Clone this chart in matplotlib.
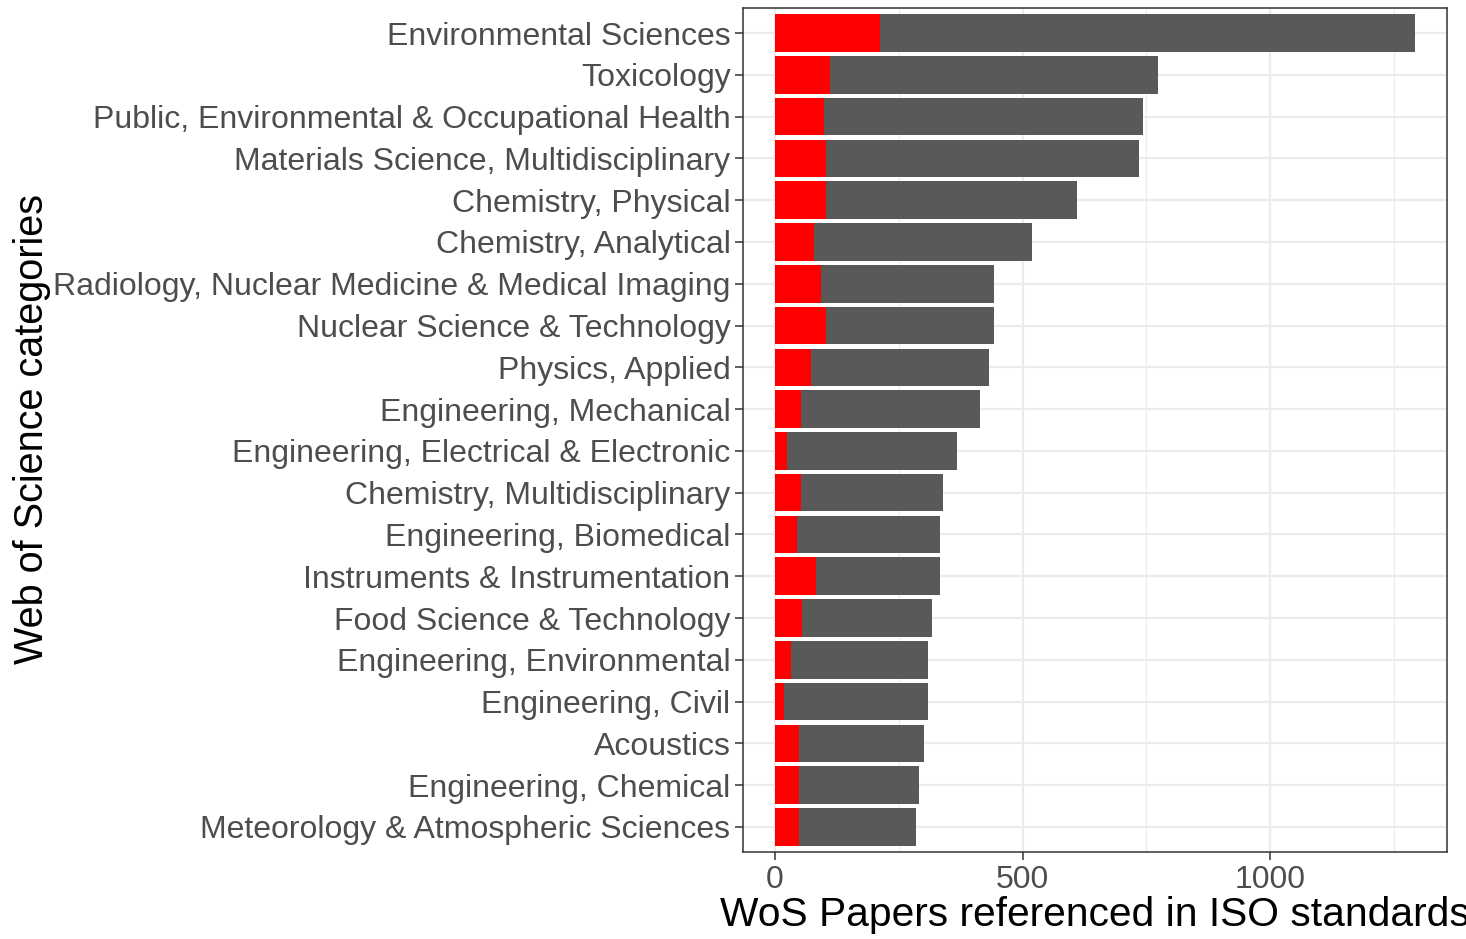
import numpy as np
import matplotlib
matplotlib.use("Agg")
import matplotlib.pyplot as plt

plt.rcParams['font.family'] = ['Liberation Sans', 'DejaVu Sans']

# categories from top to bottom
categories = [
    "Environmental Sciences",
    "Toxicology",
    "Public, Environmental & Occupational Health",
    "Materials Science, Multidisciplinary",
    "Chemistry, Physical",
    "Chemistry, Analytical",
    "Radiology, Nuclear Medicine & Medical Imaging",
    "Nuclear Science & Technology",
    "Physics, Applied",
    "Engineering, Mechanical",
    "Engineering, Electrical & Electronic",
    "Chemistry, Multidisciplinary",
    "Engineering, Biomedical",
    "Instruments & Instrumentation",
    "Food Science & Technology",
    "Engineering, Environmental",
    "Engineering, Civil",
    "Acoustics",
    "Engineering, Chemical",
    "Meteorology & Atmospheric Sciences",
]
# total papers per category
totals = [1293, 774, 744, 736, 611, 519, 443, 443, 433, 414,
          368, 340, 334, 334, 318, 310, 310, 300, 290, 284]
# highlighted part (red)
highlight = [213, 112, 98, 103, 103, 79, 93, 103, 72, 52,
             24, 52, 45, 83, 55, 32, 19, 48, 48, 48]

n = len(categories)
ypos = np.arange(n)[::-1]

fig = plt.figure(figsize=(14.66, 9.39), dpi=100)
ax = fig.add_axes([743/1466, 1 - 852/939, (1447-743)/1466, (852-8)/939])

ax.barh(ypos, totals, height=0.9, color="#595959", zorder=2)
ax.barh(ypos, highlight, height=0.9, color="#FF0000", zorder=3)

ax.set_xlim(-64.7, 1357.6)
ax.set_ylim(-0.6, n - 0.4)

ax.set_xticks([0, 500, 1000])
ax.set_xticks([250, 750, 1250], minor=True)
ax.set_yticks(ypos)
ax.set_yticklabels(categories)

ax.grid(which="major", color="#EBEBEB", linewidth=1.6, zorder=0)
ax.grid(which="minor", axis="x", color="#EBEBEB", linewidth=0.8, zorder=0)
ax.set_axisbelow(True)

ax.tick_params(axis="both", which="major", labelsize=23.0, labelcolor="#4D4D4D",
               color="#333333", length=6, width=1.1, pad=3)
ax.tick_params(axis="x", which="minor", length=0)
for sp in ax.spines.values():
    sp.set_color("#333333")
    sp.set_linewidth(1.1)

ax.set_xlabel("WoS Papers referenced in ISO standards", fontsize=29.3, color="black", labelpad=1)

fig.text(32/1466, 1 - 429/939, "Web of Science categories", rotation=90,
         fontsize=28.5, color="black", ha="center", va="center")

fig.savefig("out.png", dpi=100)
